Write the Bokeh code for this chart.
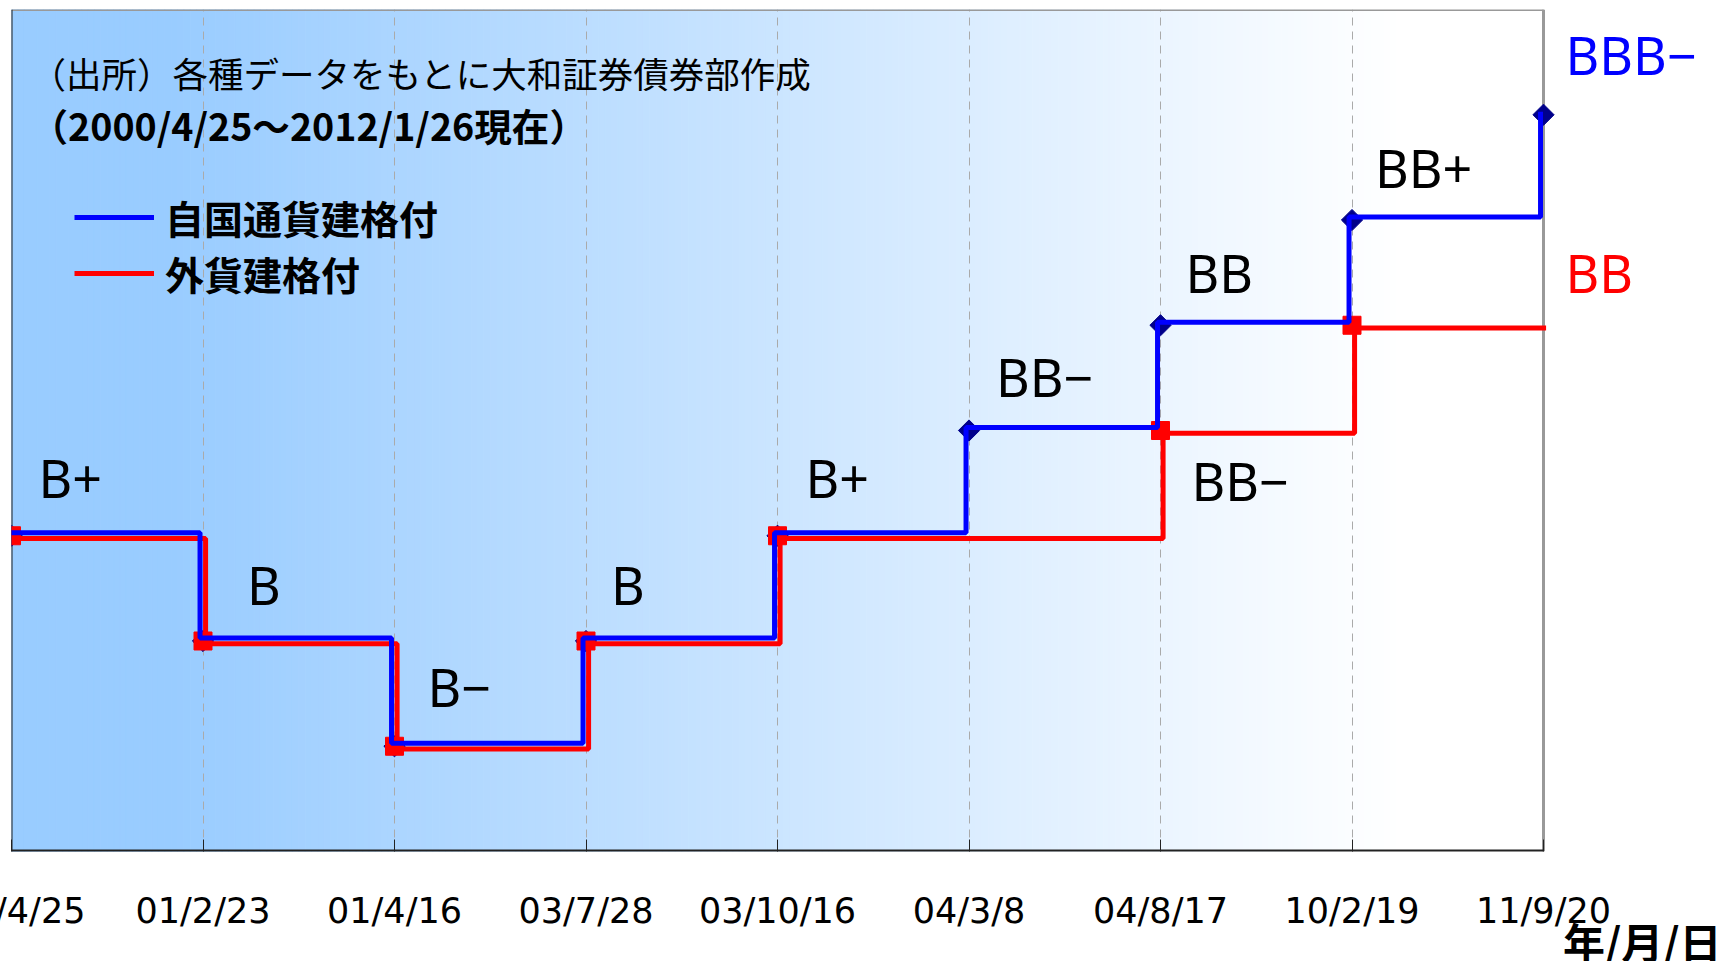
from bokeh.plotting import figure
from bokeh.models import Range1d, FixedTicker, Label, Legend, LegendItem, ColumnDataSource, Title
from bokeh.transform import dodge
from bokeh.embed import file_html
from bokeh.resources import INLINE
import numpy as np

# ---------------- data ----------------
dates = ["00/4/25", "01/2/23", "01/4/16", "03/7/28", "03/10/16",
         "04/3/8", "04/8/17", "10/2/19", "11/9/20"]
ratings = ["B−", "B", "B+", "BB−", "BB", "BB+", "BBB−"]          # low -> high
local_currency = ["B+", "B", "B−", "B", "B+", "BB−", "BB", "BB+", "BBB−"]
foreign_currency = ["B+", "B", "B−", "B", "B+", "B+", "BB−", "BB", "BB"]
series_names = ["自国通貨建格付", "外貨建格付"]
source_note = "（出所）各種データをもとに大和証券債券部作成"
period_note = "（2000/4/25～2012/1/26現在）"
x_title = "年/月/日"

ann_text = ["B+", "B", "B−", "B", "B+", "BB−", "BB", "BB+", "BB−", "BBB−", "BB"]
ann_date = ["00/4/25", "01/2/23", "01/4/16", "03/7/28", "03/10/16",
            "04/3/8", "04/8/17", "10/2/19", "04/8/17", "11/9/20", "11/9/20"]
ann_color = ["black"] * 9 + ["#0000FF", "#FF0000"]
# style offsets (px) of each rating label from its step point
ann_dx = [27, 44, 33, 25, 28, 27, 25, 23, 31, 22, 22]
ann_dy = [58, 57, 60, 57, 58, 54, 53, 53, -50, 60, 53]

# ---------------- helpers ----------------
xi = list(range(len(dates)))
level = {r: i + 1 for i, r in enumerate(ratings)}
y_local = [level[r] for r in local_currency]
y_foreign = [level[r] for r in foreign_currency]
x_last = len(dates) - 1
y_top = len(ratings) + 1

BLUE = "#0000FF"
RED = "#FF0000"
NAVY = "#00008B"

SHIFT = 50                     # canvas pulled left so the first date label is cut like the original
W, H = 1724 + SHIFT, 961
LEFT = 11 + SHIFT
PLOT_W = 1532                  # width of the boxed plot area
x_end = x_last * (W - LEFT) / PLOT_W

p = figure(width=W, height=H, output_backend="svg", toolbar_location=None,
           x_range=Range1d(0, x_end), y_range=Range1d(0, y_top),
           y_axis_location=None,
           min_border_left=LEFT, min_border_right=0, min_border_top=9, min_border_bottom=110,
           background_fill_color="white", border_fill_color="white",
           styles={"margin-left": "-%dpx" % SHIFT})
p.outline_line_color = None

# gradient background (style)
n_strips = 240
edges = np.linspace(0, x_last, n_strips + 1)
centers = (edges[:-1] + edges[1:]) / 2
t = np.clip((centers - 0.85) / (7.25 - 0.85), 0, 1)
c0 = np.array([153, 204, 255])
c1 = np.array([255, 255, 255])
cols = ["#%02x%02x%02x" % tuple(int(round(v)) for v in (c0 + (c1 - c0) * tt)) for tt in t]
p.quad(left=edges[:-1], right=edges[1:], bottom=0, top=y_top,
       fill_color=cols, line_color=cols, line_width=1, level="image")

# grid
p.ygrid.visible = False
p.xgrid.grid_line_color = "#AAAAAA"
p.xgrid.grid_line_width = 1
p.xgrid.grid_line_dash = "8 6"

# x axis
ax = p.xaxis[0]
ax.ticker = FixedTicker(ticks=xi)
ax.major_label_overrides = {i: d for i, d in zip(xi, dates)}
ax.major_label_text_font = "DejaVu Sans"
ax.major_label_text_font_size = "35px"
ax.major_label_text_color = "black"
ax.major_label_standoff = 39
ax.major_tick_in = 12
ax.major_tick_out = 0
ax.major_tick_line_color = "#222222"
ax.minor_tick_line_color = None
ax.axis_line_color = None

# box around the plotted period
p.segment(x0=[0, x_last], y0=[y_top, 0], x1=[x_last, x_last], y1=[y_top, y_top],
          line_color="#999999", line_width=3)
p.segment(x0=[0, 0], y0=[0, 0], x1=[0, x_last], y1=[y_top, 0],
          line_color="#222222", line_width=[2, 4])

src_local = ColumnDataSource(dict(x=xi, y=y_local))
src_foreign = ColumnDataSource(dict(x=xi, y=y_foreign))

# blue diamonds (under red squares)
p.scatter(x="x", y="y", source=src_local, marker="square", angle=np.pi / 4, size=15,
          fill_color=NAVY, line_color=NAVY)

r_foreign = p.step(x=dodge("x", 0.0135), y=dodge("y", -0.025), source=src_foreign,
                   mode="after", line_color=RED, line_width=5)
chg = [i for i in xi if i == 0 or y_foreign[i] != y_foreign[i - 1]]
p.scatter(x=[xi[i] for i in chg], y=[y_foreign[i] for i in chg], marker="square",
          size=18, fill_color=RED, line_color=RED)

r_local = p.step(x=dodge("x", -0.0155), y=dodge("y", 0.028), source=src_local,
                 mode="after", line_color=BLUE, line_width=5)

# rating annotations
for txt, d, col, dx, dy in zip(ann_text, ann_date, ann_color, ann_dx, ann_dy):
    p.add_layout(Label(x=dates.index(d), y=level[txt], text=txt, x_offset=dx, y_offset=dy,
                       text_font="Noto Sans", text_font_size="52px", text_color=col,
                       text_baseline="middle", text_align="left"))

# notes
p.add_layout(Label(x=0, y=y_top, x_offset=19, y_offset=-63, text=source_note,
                   text_font="Noto Sans CJK JP", text_font_size="35.5px", text_color="black",
                   text_baseline="middle", text_align="left"))
p.add_layout(Label(x=0, y=y_top, x_offset=19, y_offset=-115, text=period_note,
                   text_font="Noto Sans CJK JP", text_font_size="37.6px", text_font_style="bold",
                   text_color="black", text_baseline="middle", text_align="left"))

p.add_layout(Title(text=x_title, align="right", vertical_align="top", text_font="Noto Sans CJK JP",
                   text_font_size="42px", text_font_style="bold", text_color="black",
                   standoff=-48, offset=3), "below")

legend = Legend(items=[LegendItem(label=series_names[0], renderers=[r_local]),
                       LegendItem(label=series_names[1], renderers=[r_foreign])],
                location=(63, 550), padding=0, margin=0, spacing=-9,
                glyph_width=80, glyph_height=50, label_height=50, label_standoff=11,
                label_text_font="Noto Sans CJK JP", label_text_font_size="39px",
                label_text_font_style="bold", label_text_color="black",
                background_fill_alpha=0, border_line_alpha=0)
p.add_layout(legend)

open("out.html", "w").write(file_html(p, INLINE))
